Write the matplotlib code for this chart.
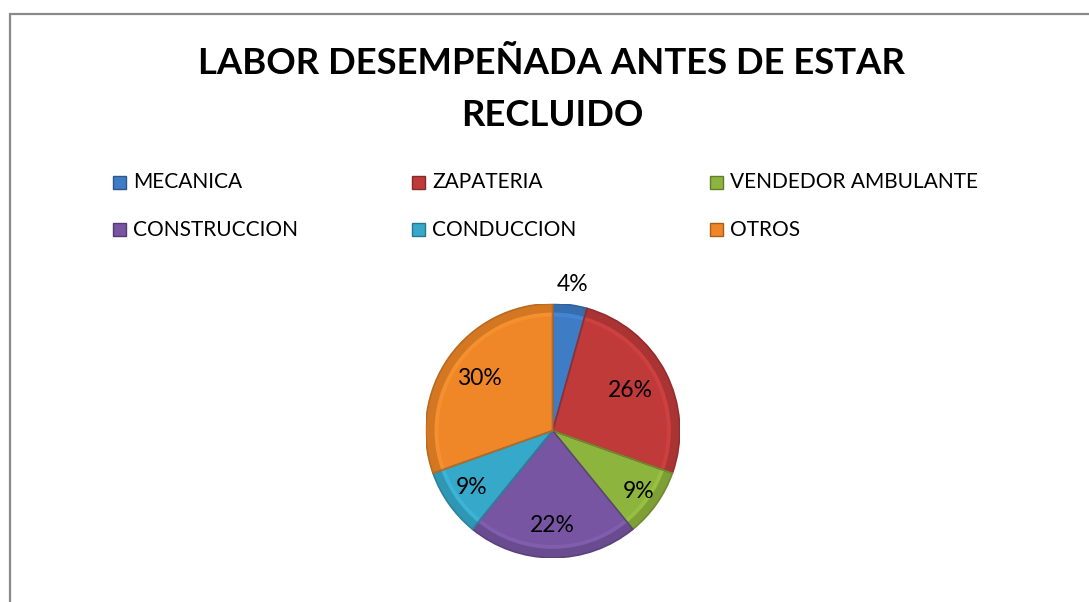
import numpy as np
import matplotlib
matplotlib.use("Agg")
import matplotlib.pyplot as plt
from matplotlib.patches import Rectangle, Wedge
import matplotlib.colors as mcolors

categories = ["MECANICA", "ZAPATERIA", "VENDEDOR AMBULANTE", "CONSTRUCCION", "CONDUCCION", "OTROS"]
counts = [1, 6, 2, 5, 2, 7]
colors = ["#3E7CC6", "#C03A3A", "#8DB43C", "#7755A2", "#36A9CA", "#EF8628"]
label_dist = [1.16, 0.69, 0.83, 0.75, 0.78, 0.71]
title = "LABOR DESEMPEÑADA ANTES DE ESTAR\nRECLUIDO"

W, H = 1089, 602
fig = plt.figure(figsize=(W / 100, H / 100), dpi=100)
fig.patch.set_facecolor("white")

def fx(px):
    return px / W

def fy(py):
    return 1 - py / H

# outer frame (extends beyond the right and bottom edges)
fig.patches.append(Rectangle((fx(9.5), fy(800)), 1200 / W, (800 - 13.5) / H,
                             transform=fig.transFigure, fill=False, edgecolor="#8a8a8a", linewidth=1.6))

# title
fig.text(fx(552), fy(89.5), title, ha="center", va="center", fontsize=26.3, fontweight="bold",
         family="Lato", linespacing=1.68, color="black")

# pie
cx, cy, r = 552.7, 430.7, 127
ax = fig.add_axes([fx(cx - r), fy(cy + r), 2 * r / W, 2 * r / H])
wedges, texts = ax.pie(counts, colors=colors, startangle=90, counterclock=False, radius=1.0,
                       wedgeprops=dict(linewidth=0.8, edgecolor="none"))
ax.set_xlim(-1, 1)
ax.set_ylim(-1, 1)
ax.set_aspect("auto")
ax.axis("off")

total = sum(counts)
for w, c, d, col in zip(wedges, counts, label_dist, colors):
    t1, t2 = w.theta1, w.theta2
    dark = np.array(mcolors.to_rgb(col)) * 0.78
    light = np.clip(np.array(mcolors.to_rgb(col)) * 1.12 + 0.05, 0, 1)
    # bevel rim
    ax.add_patch(Wedge((0, 0), 1.0, t1, t2, width=0.07, facecolor=dark, edgecolor="none", alpha=0.5))
    ax.add_patch(Wedge((0, 0), 0.93, t1, t2, width=0.03, facecolor=light, edgecolor="none", alpha=0.35))
    ax.add_patch(Wedge((0, 0), 1.0, t1, t2, facecolor="none", edgecolor=dark, linewidth=1.2))
    mid = np.deg2rad((t1 + t2) / 2)
    ax.text(d * np.cos(mid), d * np.sin(mid), f"{round(100 * c / total)}%", ha="center", va="center",
            fontsize=16.5, family="Lato", color="black")

# legend (row-major, equal-width columns like the original)
col_x = [113, 412, 710]
row_y = [182, 230]
sq = 13
for i, (name, col) in enumerate(zip(categories, colors)):
    x = col_x[i % 3]
    y = row_y[i // 3]
    dark = np.array(mcolors.to_rgb(col)) * 0.7
    fig.patches.append(Rectangle((fx(x), fy(y + sq / 2)), sq / W, sq / H, transform=fig.transFigure,
                                 facecolor=col, edgecolor=dark, linewidth=1.0))
    fig.text(fx(x + 20), fy(y), name, ha="left", va="center", fontsize=15, family="Lato", color="black")

fig.savefig("out.png", dpi=100)
